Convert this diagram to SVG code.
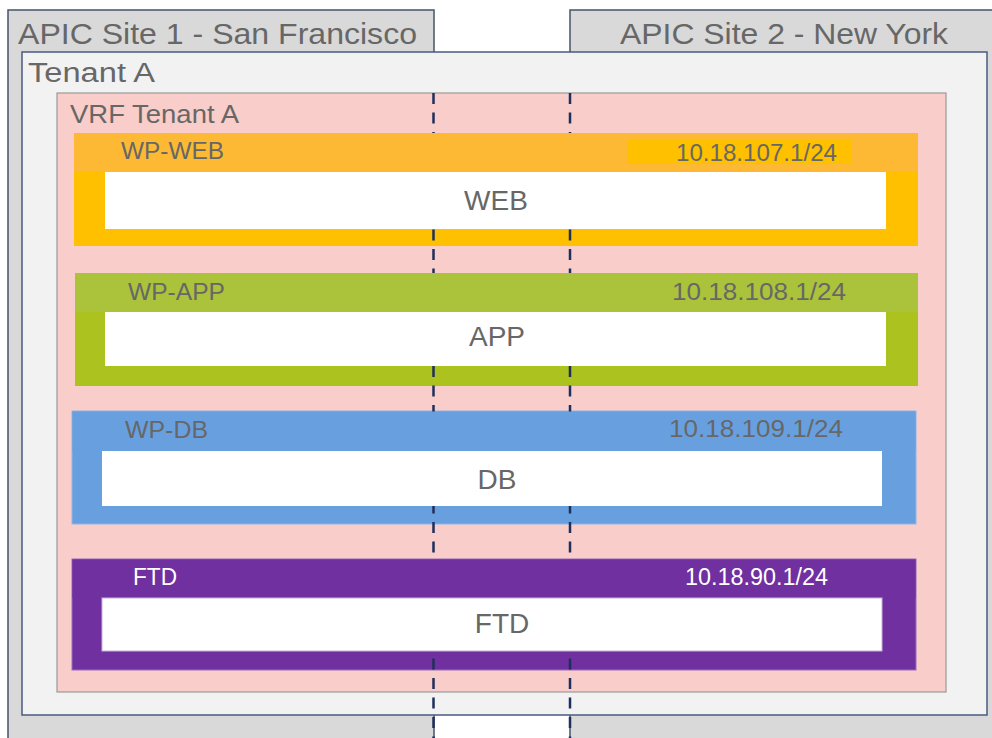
<svg xmlns="http://www.w3.org/2000/svg" width="992" height="738" viewBox="0 0 992 738">
  <style>
    text { font-family: "Liberation Sans", Arial, sans-serif; fill: #676767; }
    .site { fill: #d9d9d9; stroke: #44546a; stroke-width: 1.5; }
    .title { font-size: 30px; }
    .lbl { font-size: 23px; }
    .main { font-size: 28px; text-anchor: middle; }
    .white { fill: #ffffff; }
    .inner { fill: #ffffff; }
    .dash { stroke: #1f2f5c; stroke-width: 2.5; stroke-dasharray: 11 8.5; fill: none; }
  </style>
  <rect width="992" height="738" fill="#ffffff"/>
  <g id="site1">
    <rect class="site" x="8" y="10" width="426" height="740"/>
    <text class="title" x="18" y="44" textLength="399" lengthAdjust="spacingAndGlyphs">APIC Site 1 - San Francisco</text>
  </g>
  <g id="site2">
    <rect class="site" x="570" y="10" width="430" height="740"/>
    <text class="title" x="620" y="44" textLength="328" lengthAdjust="spacingAndGlyphs">APIC Site 2 - New York</text>
  </g>
  <g id="tenant">
    <rect x="22" y="52" width="965" height="663" fill="#f2f2f2" stroke="#4a5a80" stroke-width="1.5"/>
    <text x="28" y="82" font-size="27" textLength="127" lengthAdjust="spacingAndGlyphs">Tenant A</text>
  </g>
  <g id="vrf">
    <rect x="57" y="93" width="889" height="599" fill="#f9cdc9" stroke="#9a9a9a" stroke-width="1.2"/>
    <text x="70" y="122.5" font-size="26" textLength="169" lengthAdjust="spacingAndGlyphs">VRF Tenant A</text>
  </g>
  <!-- band bases -->
  <rect x="74" y="133" width="844" height="113" fill="#ffc000"/>
  <rect x="75" y="273" width="843" height="113" fill="#acc21e"/>
  <rect x="72" y="411" width="844" height="113" fill="#68a0df" stroke="#8db8e8" stroke-width="1"/>
  <rect x="72" y="559" width="844" height="111" fill="#7030a0" stroke="#9a6cbf" stroke-width="1"/>
  <g id="connectors">
    <line class="dash" x1="433.5" y1="93" x2="433.5" y2="738"/>
    <line class="dash" x1="570" y1="93" x2="570" y2="738"/>
  </g>
  <g id="wp-web">
    <rect x="74" y="133" width="844" height="39" fill="#fdb933"/>
    <rect x="627" y="139" width="224" height="25" fill="#ffc000"/>
    <rect class="inner" x="105" y="172" width="781" height="57"/>
    <text class="lbl" x="121" y="159" textLength="103" lengthAdjust="spacingAndGlyphs">WP-WEB</text>
    <text class="lbl" x="676" y="160.5" textLength="161" lengthAdjust="spacingAndGlyphs">10.18.107.1/24</text>
    <text class="main" x="496" y="210">WEB</text>
  </g>
  <g id="wp-app">
    <rect x="75" y="273" width="843" height="39" fill="#abc23b"/>
    <rect class="inner" x="105" y="312" width="781" height="54"/>
    <text class="lbl" x="128" y="299.5" textLength="97" lengthAdjust="spacingAndGlyphs">WP-APP</text>
    <text class="lbl" x="672" y="299.5" textLength="174" lengthAdjust="spacingAndGlyphs">10.18.108.1/24</text>
    <text class="main" x="497" y="346">APP</text>
  </g>
  <g id="wp-db">
    <rect x="72.5" y="411.5" width="843" height="39.5" fill="#68a0df"/>
    <rect class="inner" x="102" y="451" width="780" height="55"/>
    <text class="lbl" x="125" y="437.5" textLength="83" lengthAdjust="spacingAndGlyphs">WP-DB</text>
    <text class="lbl" x="669" y="437" textLength="174" lengthAdjust="spacingAndGlyphs">10.18.109.1/24</text>
    <text class="main" x="497" y="489">DB</text>
  </g>
  <g id="ftd">
    <rect x="72.5" y="559.5" width="843" height="38.5" fill="#7030a0"/>
    <rect class="inner" x="102" y="598" width="780" height="53" stroke="#c6b0d8" stroke-width="1"/>
    <text class="lbl white" x="133" y="585" textLength="44" lengthAdjust="spacingAndGlyphs">FTD</text>
    <text class="lbl white" x="685" y="585" textLength="143" lengthAdjust="spacingAndGlyphs">10.18.90.1/24</text>
    <text class="main" x="502" y="633">FTD</text>
  </g>
</svg>
